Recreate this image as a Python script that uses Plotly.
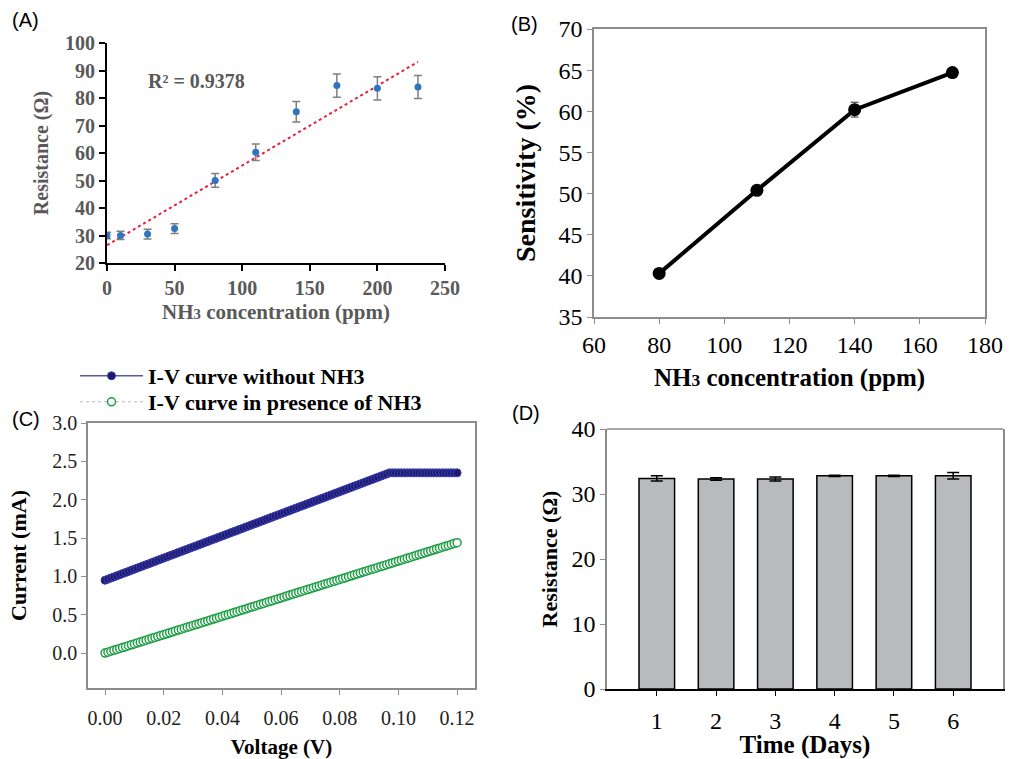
import plotly.graph_objects as go

# ---------------- Panel A data ----------------
a_conc = [0, 10, 30, 50, 80, 110, 140, 170, 200, 230]
a_res = [30.0, 30.0, 30.5, 32.5, 50.0, 60.3, 75.0, 84.5, 83.5, 84.0]
a_err = [1.2, 1.5, 1.8, 1.8, 2.5, 3.0, 3.7, 4.2, 4.2, 4.2]
a_r2_text = "R² = 0.9378"

# ---------------- Panel B data ----------------
b_conc = [80, 110, 140, 170]
b_sens = [40.3, 50.4, 60.2, 64.7]
b_err = [0.5, 0.5, 0.9, 0.5]

# ---------------- Panel C data ----------------
c_volt = [
    0.000, 0.001, 0.002, 0.003, 0.004, 0.005, 0.006, 0.007, 0.008, 0.009,
    0.010, 0.011, 0.012, 0.013, 0.014, 0.015, 0.016, 0.017, 0.018, 0.019,
    0.020, 0.021, 0.022, 0.023, 0.024, 0.025, 0.026, 0.027, 0.028, 0.029,
    0.030, 0.031, 0.032, 0.033, 0.034, 0.035, 0.036, 0.037, 0.038, 0.039,
    0.040, 0.041, 0.042, 0.043, 0.044, 0.045, 0.046, 0.047, 0.048, 0.049,
    0.050, 0.051, 0.052, 0.053, 0.054, 0.055, 0.056, 0.057, 0.058, 0.059,
    0.060, 0.061, 0.062, 0.063, 0.064, 0.065, 0.066, 0.067, 0.068, 0.069,
    0.070, 0.071, 0.072, 0.073, 0.074, 0.075, 0.076, 0.077, 0.078, 0.079,
    0.080, 0.081, 0.082, 0.083, 0.084, 0.085, 0.086, 0.087, 0.088, 0.089,
    0.090, 0.091, 0.092, 0.093, 0.094, 0.095, 0.096, 0.097, 0.098, 0.099,
    0.100, 0.101, 0.102, 0.103, 0.104, 0.105, 0.106, 0.107, 0.108, 0.109,
    0.110, 0.111, 0.112, 0.113, 0.114, 0.115, 0.116, 0.117, 0.118, 0.119,
    0.120,
]
c_current_without = [
    0.950, 0.964, 0.979, 0.993, 1.008, 1.022, 1.037, 1.051, 1.065, 1.080,
    1.094, 1.109, 1.123, 1.138, 1.152, 1.166, 1.181, 1.195, 1.210, 1.224,
    1.239, 1.253, 1.268, 1.282, 1.296, 1.311, 1.325, 1.340, 1.354, 1.369,
    1.383, 1.397, 1.412, 1.426, 1.441, 1.455, 1.470, 1.484, 1.498, 1.513,
    1.527, 1.542, 1.556, 1.571, 1.585, 1.599, 1.614, 1.628, 1.643, 1.657,
    1.672, 1.686, 1.701, 1.715, 1.729, 1.744, 1.758, 1.773, 1.787, 1.802,
    1.816, 1.830, 1.845, 1.859, 1.874, 1.888, 1.903, 1.917, 1.931, 1.946,
    1.960, 1.975, 1.989, 2.004, 2.018, 2.032, 2.047, 2.061, 2.076, 2.090,
    2.105, 2.119, 2.134, 2.148, 2.162, 2.177, 2.191, 2.206, 2.220, 2.235,
    2.249, 2.263, 2.278, 2.292, 2.307, 2.321, 2.336, 2.350, 2.350, 2.350,
    2.350, 2.350, 2.350, 2.350, 2.350, 2.350, 2.350, 2.350, 2.350, 2.350,
    2.350, 2.350, 2.350, 2.350, 2.350, 2.350, 2.350, 2.350, 2.350, 2.350,
    2.350,
]
c_current_with = [
    0.000, 0.012, 0.024, 0.036, 0.048, 0.060, 0.072, 0.084, 0.096, 0.108,
    0.120, 0.132, 0.144, 0.156, 0.168, 0.180, 0.192, 0.204, 0.216, 0.228,
    0.240, 0.252, 0.264, 0.276, 0.288, 0.300, 0.312, 0.324, 0.336, 0.348,
    0.360, 0.372, 0.384, 0.396, 0.408, 0.420, 0.432, 0.444, 0.456, 0.468,
    0.480, 0.492, 0.504, 0.516, 0.528, 0.540, 0.552, 0.564, 0.576, 0.588,
    0.600, 0.612, 0.624, 0.636, 0.648, 0.660, 0.672, 0.684, 0.696, 0.708,
    0.720, 0.732, 0.744, 0.756, 0.768, 0.780, 0.792, 0.804, 0.816, 0.828,
    0.840, 0.852, 0.864, 0.876, 0.888, 0.900, 0.912, 0.924, 0.936, 0.948,
    0.960, 0.972, 0.984, 0.996, 1.008, 1.020, 1.032, 1.044, 1.056, 1.068,
    1.080, 1.092, 1.104, 1.116, 1.128, 1.140, 1.152, 1.164, 1.176, 1.188,
    1.200, 1.212, 1.224, 1.236, 1.248, 1.260, 1.272, 1.284, 1.296, 1.308,
    1.320, 1.332, 1.344, 1.356, 1.368, 1.380, 1.392, 1.404, 1.416, 1.428,
    1.440,
]
c_names = ["I-V curve without NH3", "I-V curve in presence of NH3"]

# ---------------- Panel D data ----------------
d_days = [1, 2, 3, 4, 5, 6]
d_res = [32.4, 32.3, 32.3, 32.8, 32.8, 32.8]
d_err = [0.4, 0.2, 0.3, 0.1, 0.1, 0.5]

# ---------------- Figure ----------------
W, H = 1028, 759
SERIF = "Liberation Serif"
SANS = "Liberation Sans"
GRAY_TXT = "#595959"
FRAME = "#8c8c8c"


def px(x):
    return x / W


def py(y):
    return 1 - y / H


fig = go.Figure()

# Panel A: least-squares linear trendline computed from the data
n = len(a_conc)
mx = sum(a_conc) / n
my = sum(a_res) / n
slope = sum((x - mx) * (y - my) for x, y in zip(a_conc, a_res)) / sum((x - mx) ** 2 for x in a_conc)
inter = my - slope * mx
fit_x = [a_conc[0], a_conc[-1]]
fit_y = [inter + slope * v for v in fit_x]

fig.add_trace(go.Scatter(
    x=fit_x, y=fit_y, mode="lines", xaxis="x", yaxis="y",
    line=dict(color="#e8203a", width=2, dash="dot"), showlegend=False, hoverinfo="skip"))
fig.add_trace(go.Scatter(
    x=a_conc, y=a_res, mode="markers", xaxis="x", yaxis="y",
    marker=dict(color="#2e75c0", size=7),
    error_y=dict(type="data", array=a_err, color="#7f7f7f", thickness=1.5, width=4),
    showlegend=False))

# Panel B
fig.add_trace(go.Scatter(
    x=b_conc, y=b_sens, mode="lines+markers", xaxis="x2", yaxis="y2",
    line=dict(color="black", width=4),
    marker=dict(color="black", size=13),
    error_y=dict(type="data", array=b_err, color="#333333", thickness=1, width=4),
    showlegend=False))

# Panel C
fig.add_trace(go.Scatter(
    x=c_volt, y=c_current_without, mode="lines+markers", xaxis="x3", yaxis="y3",
    name=c_names[0], legend="legend",
    line=dict(color="#5a5a9a", width=1.5),
    marker=dict(color="#1c1c6e", size=8, line=dict(color="#3c3cb4", width=1)),
    showlegend=True))
fig.add_trace(go.Scatter(
    x=c_volt, y=c_current_with, mode="lines+markers", xaxis="x3", yaxis="y3",
    name=c_names[1], legend="legend2",
    line=dict(color="#b8b8b8", width=1, dash="dot"),
    marker=dict(color="white", size=8, line=dict(color="#1f9e46", width=1.5)),
    showlegend=True))

# Panel D
fig.add_trace(go.Bar(
    x=d_days, y=d_res, xaxis="x4", yaxis="y4", width=0.6,
    marker=dict(color="#b8babc", line=dict(color="black", width=1.5)),
    error_y=dict(type="data", array=d_err, color="black", thickness=1.5, width=6),
    showlegend=False))

tickA = dict(family=SERIF, size=20, color=GRAY_TXT, weight="bold")
tickB = dict(family=SERIF, size=24, color="black")
tickC = dict(family=SERIF, size=20, color="#222222")

nh3_title = 'NH<span style="font-size:70%">3</span> concentration (ppm)'
leg_font = dict(family=SERIF, size=22, color="black", weight="bold")

fig.update_layout(
    width=W, height=H,
    margin=dict(l=0, r=0, t=0, b=0, autoexpand=False),
    paper_bgcolor="white", plot_bgcolor="white",
    font=dict(family=SERIF, color="black"),
    # Panel A axes
    xaxis=dict(domain=[px(107), px(445)], anchor="y", range=[0, 250], dtick=50, automargin=False,
               showline=True, linecolor="black", linewidth=2, ticks="outside",
               ticklen=6, tickwidth=2, tickcolor="black", showgrid=False, zeroline=False,
               tickfont=tickA,
               title=dict(text=nh3_title, font=dict(family=SERIF, size=21, color=GRAY_TXT, weight="bold"), standoff=6)),
    yaxis=dict(domain=[py(263), py(43)], anchor="x", range=[20, 100], dtick=10, automargin=False,
               showline=True, linecolor="black", linewidth=2, ticks="outside",
               ticklen=6, tickwidth=2, tickcolor="black", showgrid=False, zeroline=False,
               tickfont=tickA,
               title=dict(text="Resistance (Ω)", font=dict(family=SERIF, size=20, color=GRAY_TXT, weight="bold"), standoff=11)),
    # Panel B axes
    xaxis2=dict(domain=[px(594), px(985)], anchor="y2", range=[60, 180], dtick=20, automargin=False,
                showline=True, mirror=True, linecolor=FRAME, linewidth=1.5, ticks="outside",
                ticklen=5, tickcolor=FRAME, showgrid=False, zeroline=False, tickfont=tickB,
                title=dict(text="<b>" + nh3_title + "</b>", font=dict(family=SERIF, size=25, color="black"), standoff=12)),
    yaxis2=dict(domain=[py(317), py(29)], anchor="x2", range=[35, 70], dtick=5, automargin=False,
                showline=True, mirror=True, linecolor=FRAME, linewidth=1.5, ticks="outside",
                ticklen=5, tickcolor=FRAME, showgrid=False, zeroline=False, tickfont=tickB,
                title=dict(text="<b>Sensitivity (%)</b>", font=dict(family=SERIF, size=28, color="black"), standoff=15)),
    # Panel C axes
    xaxis3=dict(domain=[px(88), px(475)], anchor="y3", range=[-0.0058, 0.1261], dtick=0.02, automargin=False,
                tickformat=".2f",
                showline=True, mirror=True, linecolor=FRAME, linewidth=1.5, ticks="outside",
                ticklen=5, tickcolor=FRAME, showgrid=False, zeroline=False, tickfont=tickC,
                ticklabelstandoff=6,
                title=dict(text="<b>Voltage (V)</b>", font=dict(family=SERIF, size=21, color="black"), standoff=14)),
    yaxis3=dict(domain=[py(688), py(423)], anchor="x3", range=[-0.455, 3.0], dtick=0.5, automargin=False,
                tickformat=".1f",
                showline=True, mirror=True, linecolor=FRAME, linewidth=1.5, ticks="outside",
                ticklen=5, tickcolor=FRAME, showgrid=False, zeroline=False, tickfont=tickC,
                title=dict(text="<b>Current (mA)</b>", font=dict(family=SERIF, size=22, color="black"), standoff=20)),
    # Panel D axes
    xaxis4=dict(domain=[px(607), px(1003)], anchor="y4", range=[0.16, 6.84], dtick=1, automargin=False,
                showline=True, linecolor="black", linewidth=1.5, ticks="outside",
                ticklen=5, tickcolor="black", showgrid=False, zeroline=False, tickfont=tickB,
                ticklabelstandoff=4,
                title=dict(text="<b>Time (Days)</b>", font=dict(family=SERIF, size=25, color="black"), standoff=8)),
    yaxis4=dict(domain=[py(689), py(429)], anchor="x4", range=[0, 40], dtick=10, automargin=False,
                showline=True, mirror=True, linecolor=FRAME, linewidth=1.5, ticks="outside",
                ticklen=5, tickcolor=FRAME, showgrid=False, zeroline=False, tickfont=tickB,
                title=dict(text="<b>Resistance (Ω)</b>", font=dict(family=SERIF, size=22, color="black"), standoff=8)),
    legend=dict(x=px(75), y=py(376), xanchor="left", yanchor="middle",
                bgcolor="rgba(0,0,0,0)", font=leg_font, itemwidth=63),
    legend2=dict(x=px(75), y=py(402), xanchor="left", yanchor="middle",
                 bgcolor="rgba(0,0,0,0)", font=leg_font, itemwidth=63),
)

# top frame line for panel D (gray), bottom axis stays black
fig.add_shape(type="line", xref="x4 domain", yref="y4 domain", x0=0, x1=1, y0=1, y1=1,
              line=dict(color=FRAME, width=1.5))

annos = [
    dict(text="(A)", x=px(10), y=py(7)),
    dict(text="(B)", x=px(509), y=py(11)),
    dict(text="(C)", x=px(10), y=py(406)),
    dict(text="(D)", x=px(510), y=py(400)),
]
for a in annos:
    fig.add_annotation(text=a["text"], x=a["x"], y=a["y"], xref="paper", yref="paper",
                       xanchor="left", yanchor="top", showarrow=False,
                       font=dict(family=SANS, size=20, color="black"))

fig.add_annotation(text=a_r2_text, x=66, y=86.2, xref="x", yref="y", showarrow=False,
                   font=dict(family=SERIF, size=20, color=GRAY_TXT, weight="bold"))

fig.write_html("out.html")
